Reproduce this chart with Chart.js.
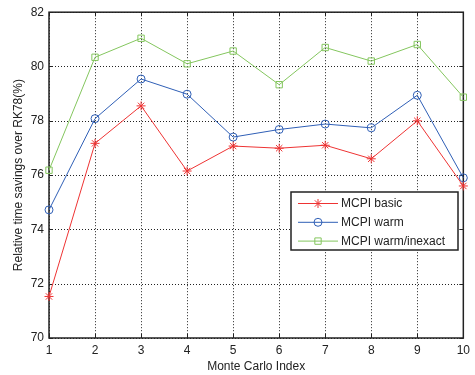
<!DOCTYPE html>
<html>
<head>
<meta charset="utf-8">
<script src="https://cdn.jsdelivr.net/npm/chart.js@4"></script>
<style>
  html, body { margin: 0; padding: 0; background: #fff; }
  #wrap { width: 475px; height: 375px; }
</style>
</head>
<body>
<div id="wrap"><canvas id="chart" width="475" height="375"></canvas></div>
<script>
// Monte Carlo index on x, relative savings (%) on y
const runIndex = [1, 2, 3, 4, 5, 6, 7, 8, 9, 10];
const mcpiBasic = [71.53, 77.17, 78.55, 76.15, 77.07, 76.99, 77.1, 76.6, 78.0, 75.6];
const mcpiWarm = [74.72, 78.08, 79.54, 78.98, 77.4, 77.68, 77.88, 77.74, 78.94, 75.9];
const mcpiWarmInexact = [76.18, 80.34, 81.04, 80.1, 80.57, 79.33, 80.7, 80.2, 80.81, 78.87];
const seriesNames = ['MCPI basic', 'MCPI warm', 'MCPI warm/inexact'];

const RED = '#ee3333';
const BLUE = '#2f5fb6';
const GREEN = '#84c65e';
const FONT = '"Liberation Sans", Arial, sans-serif';

function toPoints(values) {
  return values.map((v, i) => ({ x: runIndex[i], y: v }));
}

// dotted grid under the lines
const dottedGrid = {
  id: 'dottedGrid',
  beforeDatasetsDraw(chart) {
    const { ctx, chartArea: a, scales } = chart;
    ctx.save();
    ctx.strokeStyle = '#222';
    ctx.lineWidth = 1;
    ctx.setLineDash([1, 2]);
    ctx.beginPath();
    scales.x.ticks.forEach(t => {
      const px = Math.round(scales.x.getPixelForValue(t.value)) + 0.5;
      ctx.moveTo(px, a.top); ctx.lineTo(px, a.bottom);
    });
    scales.y.ticks.forEach(t => {
      const py = Math.round(scales.y.getPixelForValue(t.value)) + 0.5;
      ctx.moveTo(a.left, py); ctx.lineTo(a.right, py);
    });
    ctx.stroke();
    ctx.restore();
  }
};

// frame all around + little inward ticks, matlab style
const frame = {
  id: 'frame',
  beforeDatasetsDraw(chart) {
    const { ctx, chartArea: a, scales } = chart;
    ctx.save();
    ctx.strokeStyle = '#222';
    ctx.lineWidth = 1.5;
    ctx.strokeRect(a.left, a.top, a.right - a.left, a.bottom - a.top);
    ctx.lineWidth = 1;
    ctx.beginPath();
    scales.x.ticks.forEach(t => {
      const px = Math.round(scales.x.getPixelForValue(t.value)) + 0.5;
      ctx.moveTo(px, a.bottom); ctx.lineTo(px, a.bottom - 4);
      ctx.moveTo(px, a.top); ctx.lineTo(px, a.top + 4);
    });
    scales.y.ticks.forEach(t => {
      const py = Math.round(scales.y.getPixelForValue(t.value)) + 0.5;
      ctx.moveTo(a.left, py); ctx.lineTo(a.left + 4, py);
      ctx.moveTo(a.right, py); ctx.lineTo(a.right - 4, py);
    });
    ctx.stroke();
    ctx.restore();
  }
};

// legend box inside the plot, lower right
const boxLegend = {
  id: 'boxLegend',
  afterDraw(chart) {
    const { ctx } = chart;
    const x0 = 291, y0 = 192, w = 167, h = 58;
    ctx.save();
    ctx.fillStyle = '#fff';
    ctx.fillRect(x0, y0, w, h);
    ctx.strokeStyle = '#222';
    ctx.lineWidth = 1.5;
    ctx.strokeRect(x0, y0, w, h);
    ctx.font = '12px ' + FONT;
    ctx.textBaseline = 'middle';
    chart.data.datasets.forEach((ds, i) => {
      const y = y0 + 11.5 + i * 18.8;
      ctx.strokeStyle = ds.borderColor;
      ctx.lineWidth = 1;
      ctx.beginPath();
      ctx.moveTo(298, y); ctx.lineTo(338, y);
      ctx.stroke();
      ctx.fillStyle = 'rgba(0,0,0,0)';
      Chart.helpers.drawPoint(ctx, {
        pointStyle: ds.pointStyle, radius: ds.pointRadius, borderWidth: 1
      }, 318, y);
      ctx.fillStyle = '#222';
      ctx.fillText(ds.label, 341, y + 0.5);
    });
    ctx.restore();
  }
};

function series(label, values, color, style, r) {
  return {
    label: label,
    data: toPoints(values),
    borderColor: color,
    backgroundColor: 'rgba(0,0,0,0)',
    borderWidth: 1,
    pointStyle: style,
    pointRadius: r,
    pointBorderWidth: 1,
    pointBorderColor: color,
    pointBackgroundColor: 'rgba(0,0,0,0)',
    clip: false,
    tension: 0
  };
}

new Chart(document.getElementById('chart'), {
  type: 'line',
  data: {
    datasets: [
      series(seriesNames[0], mcpiBasic, RED, 'star', 4.5),
      series(seriesNames[1], mcpiWarm, BLUE, 'circle', 4),
      series(seriesNames[2], mcpiWarmInexact, GREEN, 'rect', 4.5)
    ]
  },
  options: {
    responsive: false,
    animation: false,
    layout: { padding: { left: 0, right: 8, top: 9, bottom: 0 } },
    plugins: {
      legend: { display: false },
      tooltip: { enabled: false }
    },
    scales: {
      x: {
        type: 'linear',
        min: 1,
        max: 10,
        afterFit: s => { s.height = 37; },
        ticks: { stepSize: 1, color: '#222', padding: 5, font: { family: FONT, size: 12 } },
        grid: { display: false, drawTicks: false },
        border: { display: false },
        title: { display: true, text: 'Monte Carlo Index', color: '#222', padding: { top: 0, bottom: 1 }, font: { family: FONT, size: 12 } }
      },
      y: {
        min: 70,
        max: 82,
        afterFit: s => { s.width = 49; },
        ticks: { stepSize: 2, color: '#222', padding: 5, font: { family: FONT, size: 12 } },
        grid: { display: false, drawTicks: false },
        border: { display: false },
        title: { display: true, text: 'Relative time savings over RK78(%)', color: '#222', padding: { top: 11, bottom: 0 }, font: { family: FONT, size: 12 } }
      }
    }
  },
  plugins: [dottedGrid, frame, boxLegend]
});
</script>
</body>
</html>
